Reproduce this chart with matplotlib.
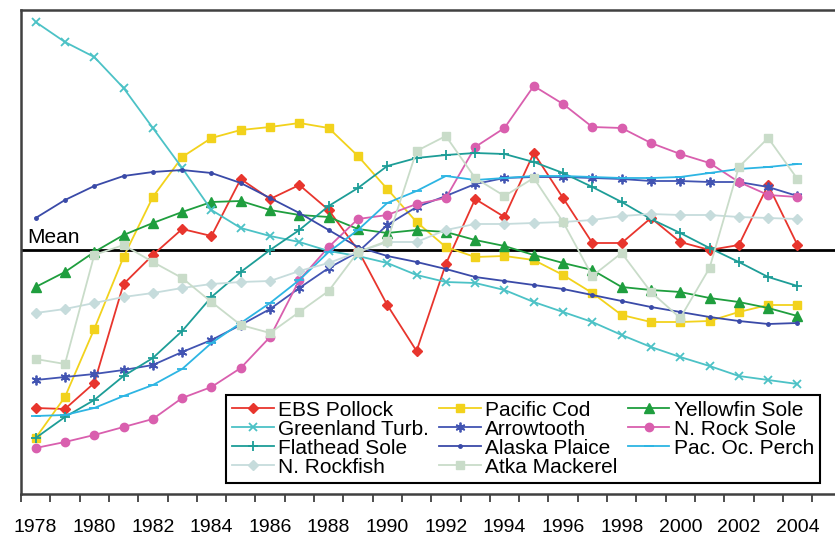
import matplotlib
matplotlib.use("Agg")
import matplotlib.pyplot as plt
import numpy as np

plt.rcParams['font.family'] = ['Liberation Sans', 'DejaVu Sans']

years = np.arange(1978, 2005)

# standardized anomalies (0 = mean)
ebs_pollock = [-1.58, -1.59, -1.33, -0.34, -0.05, 0.21, 0.14, 0.71, 0.51, 0.65, 0.40, 0.00, -0.55, -1.01,
               -0.14, 0.51, 0.33, 0.97, 0.52, 0.07, 0.07, 0.32, 0.08, 0.00, 0.05, 0.65, 0.05]
pacific_cod = [-1.88, -1.47, -0.79, -0.07, 0.53, 0.93, 1.12, 1.20, 1.23, 1.27, 1.22, 0.94, 0.61, 0.28,
               0.03, -0.07, -0.06, -0.10, -0.25, -0.43, -0.65, -0.72, -0.72, -0.71, -0.62, -0.55, -0.55]
yellowfin = [-0.37, -0.22, -0.02, 0.15, 0.27, 0.38, 0.48, 0.49, 0.40, 0.35, 0.33, 0.21, 0.17, 0.20,
             0.18, 0.10, 0.04, -0.05, -0.13, -0.20, -0.37, -0.40, -0.42, -0.48, -0.52, -0.58, -0.66]
greenland = [2.28, 2.08, 1.93, 1.62, 1.22, 0.82, 0.40, 0.22, 0.14, 0.08, -0.01, -0.06, -0.13, -0.25,
             -0.32, -0.33, -0.40, -0.52, -0.62, -0.72, -0.85, -0.97, -1.07, -1.16, -1.26, -1.30, -1.34]
arrowtooth = [-1.30, -1.27, -1.24, -1.20, -1.15, -1.02, -0.90, -0.75, -0.59, -0.38, -0.18, -0.02, 0.25, 0.43,
              0.54, 0.66, 0.72, 0.73, 0.73, 0.72, 0.71, 0.69, 0.69, 0.68, 0.68, 0.63, 0.54]
rock_sole = [-1.98, -1.92, -1.85, -1.77, -1.69, -1.48, -1.37, -1.18, -0.87, -0.30, 0.03, 0.31, 0.35, 0.46,
             0.52, 1.03, 1.22, 1.64, 1.46, 1.23, 1.22, 1.07, 0.96, 0.87, 0.68, 0.55, 0.53]
flathead = [-1.88, -1.67, -1.50, -1.26, -1.08, -0.81, -0.47, -0.22, 0.00, 0.20, 0.44, 0.62, 0.84, 0.92,
            0.95, 0.97, 0.96, 0.88, 0.77, 0.63, 0.48, 0.31, 0.17, 0.02, -0.12, -0.27, -0.36]
plaice = [0.32, 0.50, 0.64, 0.74, 0.78, 0.80, 0.77, 0.67, 0.52, 0.37, 0.20, 0.03, -0.06, -0.12,
          -0.19, -0.27, -0.31, -0.35, -0.39, -0.45, -0.51, -0.57, -0.62, -0.67, -0.71, -0.74, -0.73]
perch = [-1.66, -1.65, -1.58, -1.46, -1.35, -1.19, -0.93, -0.73, -0.53, -0.30, -0.02, 0.20, 0.47, 0.59,
         0.74, 0.70, 0.72, 0.74, 0.74, 0.73, 0.72, 0.72, 0.73, 0.77, 0.81, 0.83, 0.86]
rockfish = [-0.63, -0.59, -0.53, -0.47, -0.43, -0.38, -0.34, -0.32, -0.31, -0.21, -0.13, -0.02, 0.08, 0.08,
            0.20, 0.26, 0.26, 0.27, 0.28, 0.30, 0.34, 0.36, 0.35, 0.35, 0.33, 0.32, 0.31]
atka = [-1.09, -1.14, -0.05, 0.05, -0.12, -0.28, -0.52, -0.75, -0.83, -0.62, -0.41, -0.02, 0.09, 0.99,
        1.14, 0.72, 0.54, 0.72, 0.28, -0.26, -0.03, -0.42, -0.68, -0.18, 0.83, 1.12, 0.71]

# name, values, color, marker, markersize
series = [
    ("EBS Pollock", ebs_pollock, "#e8352d", "D", 5),
    ("Pacific Cod", pacific_cod, "#f2d21c", "s", 6),
    ("Yellowfin Sole", yellowfin, "#1f9e3e", "^", 6.5),
    ("Greenland Turb.", greenland, "#4cc2c6", "x", 6),
    ("Arrowtooth", arrowtooth, "#4254b2", (6, 2, 0), 7),
    ("N. Rock Sole", rock_sole, "#d95fae", "o", 6),
    ("Flathead Sole", flathead, "#1d9d97", "+", 7),
    ("Alaska Plaice", plaice, "#3a4aa8", "o", 2.5),
    ("Pac. Oc. Perch", perch, "#2db5e3", "_", 7),
    ("N. Rockfish", rockfish, "#c6dcdc", "D", 5),
    ("Atka Mackerel", atka, "#c9dcc9", "s", 6),
]

fig = plt.figure(figsize=(8.35, 5.35), dpi=100)
ax = fig.add_axes([21 / 835, 41 / 535, 1 - 21 / 835, 484 / 535])

handles = {}
for name, vals, col, mk, ms in series:
    mew = 1.3 if mk in ("x", "+", "_") or isinstance(mk, tuple) else 1
    ln, = ax.plot(years, vals, color=col, lw=1.3, marker=mk, ms=ms, mec=col, mfc=col, mew=mew, label=name)
    handles[name] = ln

ax.axhline(0, color="black", lw=2, zorder=1)
ax.text(1977.7, 0.03, "Mean", fontsize=15, ha="left", va="bottom")

ax.set_xlim(1977.5, 1977.5 + 814 / 29.3)
ax.set_ylim(-2.44, 2.40)

ax.set_xticks(np.arange(1978, 2005, 2))
ax.set_xticks(np.arange(1977.5, 2005, 1), minor=True)
ax.tick_params(axis="x", which="major", length=0, labelsize=14, pad=18)
ax.tick_params(axis="x", which="minor", length=6, width=1.3, color="#404040", direction="out")
ax.set_yticks([])
for s in ("left", "top", "bottom"):
    ax.spines[s].set_color("#404040")
    ax.spines[s].set_linewidth(1.8)
ax.spines["right"].set_visible(False)

# legend is filled column by column
order = ["EBS Pollock", "Greenland Turb.", "Flathead Sole", "N. Rockfish",
         "Pacific Cod", "Arrowtooth", "Alaska Plaice", "Atka Mackerel",
         "Yellowfin Sole", "N. Rock Sole", "Pac. Oc. Perch"]
leg = ax.legend([handles[n] for n in order], order, ncol=3, fontsize=15,
                loc="lower right", bbox_to_anchor=(799 / 814, 11 / 484),
                frameon=True, fancybox=False, framealpha=1, edgecolor="black",
                labelspacing=0.0, handlelength=2.0, handletextpad=0.2,
                columnspacing=0.5, borderpad=0.3, borderaxespad=0)
leg.get_frame().set_linewidth(1.5)

fig.savefig("out.png", dpi=100)
